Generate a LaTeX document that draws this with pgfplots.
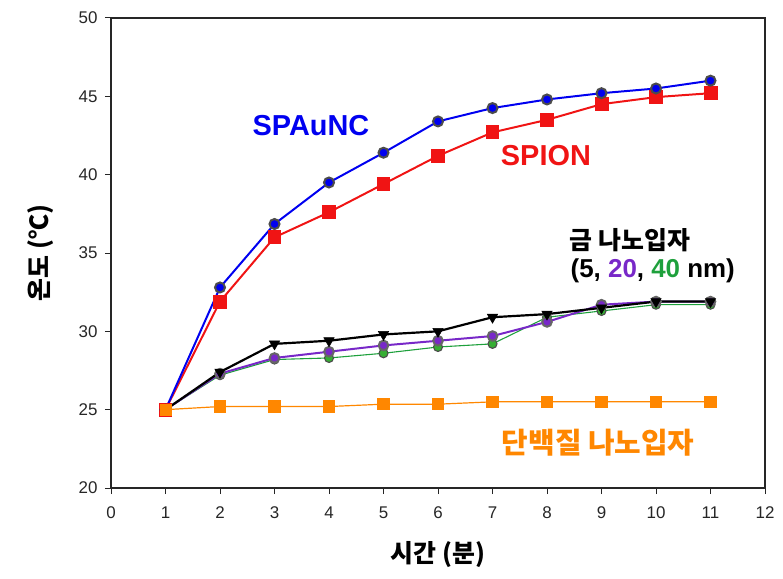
\documentclass[border=0pt]{standalone}
\usepackage{pgfplots}
\pgfplotsset{compat=1.18}
\usepackage{fontspec}
\setmainfont{Liberation Sans}
\newfontfamily\kr{Noto Sans CJK KR}
\definecolor{cblue}{RGB}{0,0,240}
\definecolor{cred}{RGB}{240,20,20}
\definecolor{cpurple}{RGB}{120,40,200}
\definecolor{cgreen}{RGB}{30,160,60}
\definecolor{corange}{RGB}{255,135,0}
\begin{document}
\begin{tikzpicture}[x=1bp,y=1bp]
\begin{axis}[
  at={(0,0)}, anchor=south west,
  scale only axis, width=654bp, height=470bp,
  xmin=0, xmax=12, ymin=20, ymax=50,
  xtick={0,...,12}, ytick={20,25,...,50},
  tick align=outside, major tick length=6bp,
  xtick pos=bottom, ytick pos=left,
  axis line style={line width=1.3pt, black!85},
  tick style={line width=1pt, black!85},
  /pgf/number format/assume math mode=true,
  ticklabel style={font=\fontsize{17}{17}\selectfont, text=black!85},
  xticklabel style={yshift=-9bp},
  yticklabel style={xshift=-4bp},
  xlabel={\kr\bfseries\fontsize{25}{25}\selectfont 시간 (분)},
  ylabel={\kr\bfseries\fontsize{25}{25}\selectfont 온도 (℃)},
  xlabel style={at={(axis description cs:0.5,0)}, anchor=center, yshift=-67bp},
  ylabel style={at={(axis description cs:0,0.5)}, anchor=center, yshift=70bp},
  clip=false,
]
\addplot[color=corange, line width=1.2pt, mark=square*, mark size=5.5bp, mark options={fill=corange, draw=corange}] coordinates {
(1,25.0)(2,25.2)(3,25.2)(4,25.2)(5,25.35)(6,25.35)(7,25.5)(8,25.5)(9,25.5)(10,25.5)(11,25.5)};
\addplot[color=cgreen, line width=1.1pt, mark=*, mark size=4.5bp, mark options={fill=cgreen!85!lime, draw=black!70}] coordinates {
(1,25.0)(2,27.2)(3,28.2)(4,28.3)(5,28.6)(6,29.0)(7,29.2)(8,30.9)(9,31.3)(10,31.7)(11,31.7)};
\addplot[color=cpurple, line width=2pt, mark=*, mark size=4.8bp, mark options={fill=cpurple, draw=black!60}] coordinates {
(1,25.0)(2,27.3)(3,28.3)(4,28.7)(5,29.1)(6,29.4)(7,29.7)(8,30.6)(9,31.7)(10,31.9)(11,31.9)};
\addplot[color=black, line width=2.2pt, mark=triangle*, mark size=6bp, mark options={fill=black, rotate=180, line width=0.5pt}] coordinates {
(1,25.0)(2,27.4)(3,29.2)(4,29.4)(5,29.8)(6,30.0)(7,30.9)(8,31.1)(9,31.5)(10,31.9)(11,31.9)};
\addplot[color=cred, line width=2pt, mark=square*, mark size=6bp, mark options={fill=cred, draw=cred}] coordinates {
(1,25.0)(2,31.9)(3,36.0)(4,37.6)(5,39.4)(6,41.2)(7,42.7)(8,43.5)(9,44.5)(10,44.95)(11,45.2)};
\addplot[color=cblue, line width=2pt, mark=*, mark size=5bp, mark options={fill=cblue, draw=black!70}] coordinates {
(1,25.0)(2,32.8)(3,36.85)(4,39.5)(5,41.4)(6,43.4)(7,44.25)(8,44.8)(9,45.2)(10,45.5)(11,46.0)};
\addplot[corange, only marks, mark=square*, mark size=5.5bp, mark options={fill=corange, draw=corange}] coordinates {(1,25.0)};
\draw[line width=1.3pt, black!85] (rel axis cs:0,1) -- (rel axis cs:1,1) -- (rel axis cs:1,0);
\node[text=cblue, font=\bfseries\fontsize{29}{29}\selectfont] at (axis cs:3.67,43.14) {SPAuNC};
\node[text=cred, font=\bfseries\fontsize{29}{29}\selectfont] at (axis cs:7.98,41.25) {SPION};
\node[text=black, font=\kr\bfseries\fontsize{25}{25}\selectfont] at (axis cs:9.52,35.83) {금 나노입자};
\node[text=black, font=\bfseries\fontsize{26}{26}\selectfont] at (axis cs:9.94,33.85) {(5, \textcolor{cpurple}{20}, \textcolor{cgreen}{40} nm)};
\node[text=corange, font=\kr\bfseries\fontsize{29}{29}\selectfont] at (axis cs:8.94,22.87) {단백질 나노입자};
\end{axis}
\pgfresetboundingbox
\useasboundingbox (-111bp,-91bp) rectangle (672bp,488bp);
\end{tikzpicture}
\end{document}
